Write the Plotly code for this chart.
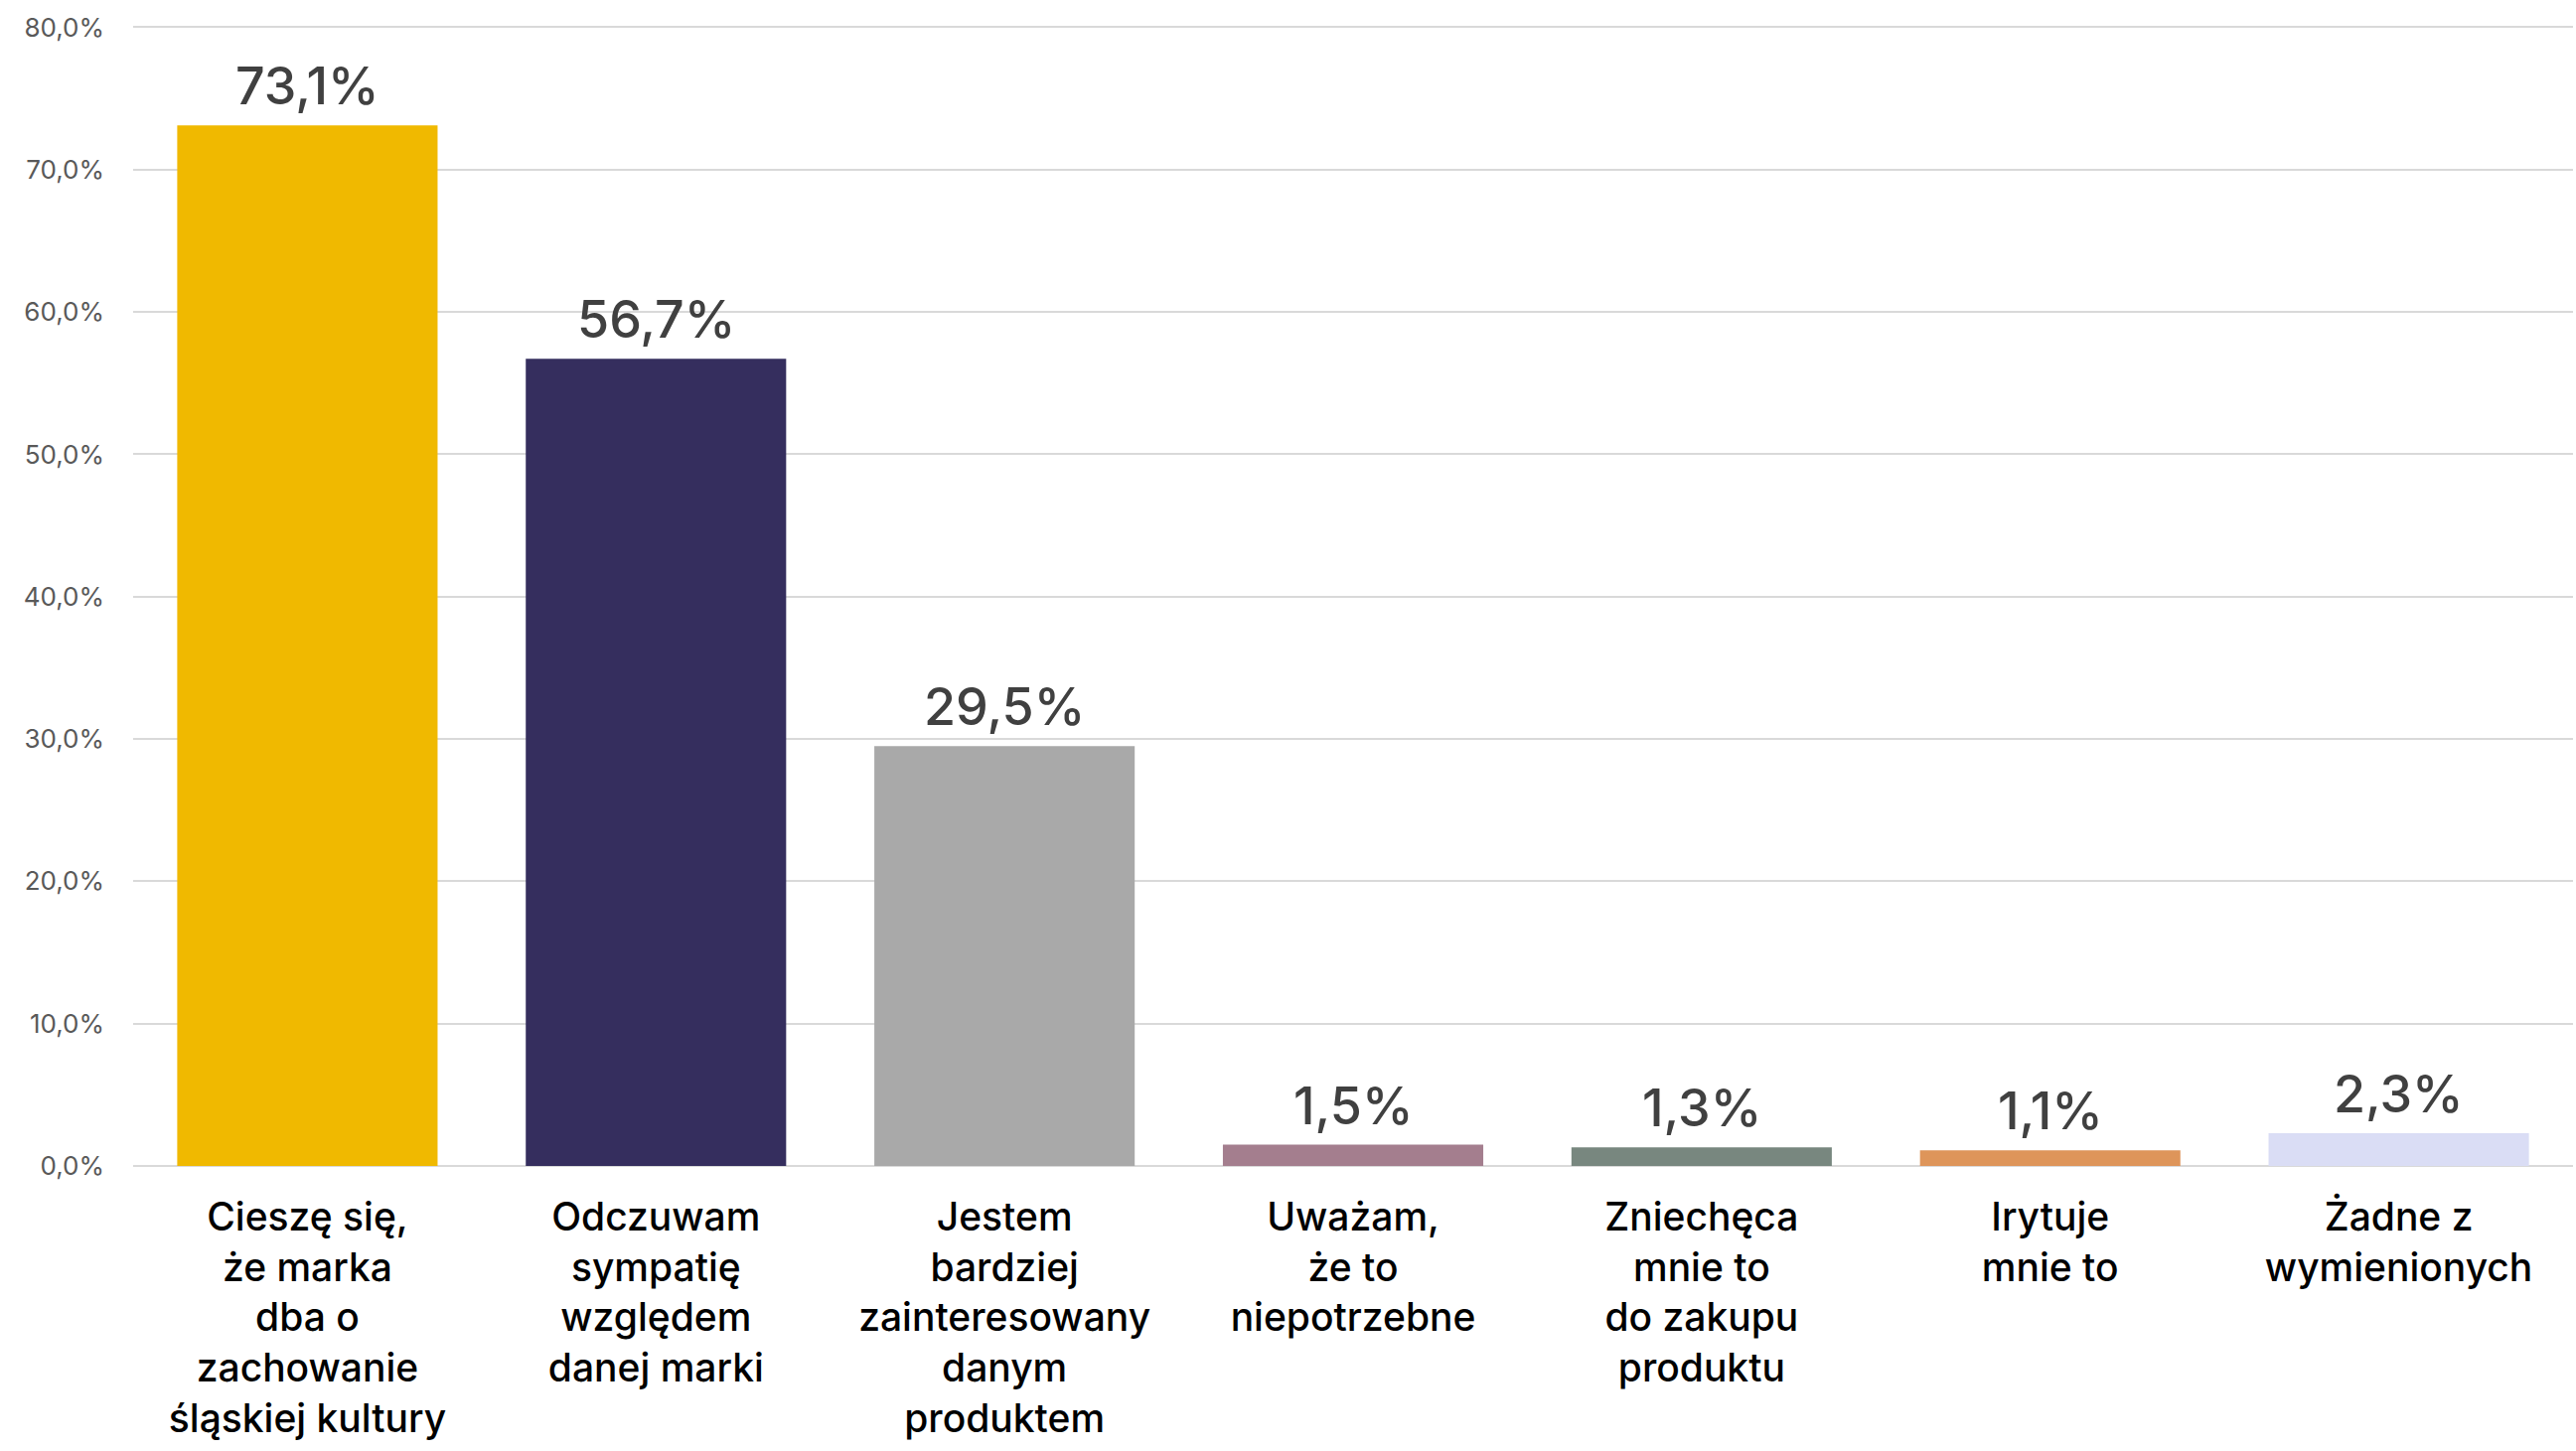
import plotly.graph_objects as go

# Survey answers (multi-line category labels) and shares in percent
categories = [
    "Cieszę się,<br>że marka<br>dba o<br>zachowanie<br>śląskiej kultury",
    "Odczuwam<br>sympatię<br>względem<br>danej marki",
    "Jestem<br>bardziej<br>zainteresowany<br>danym<br>produktem",
    "Uważam,<br>że to<br>niepotrzebne",
    "Zniechęca<br>mnie to<br>do zakupu<br>produktu",
    "Irytuje<br>mnie to",
    "Żadne z<br>wymienionych",
]
values = [73.1, 56.7, 29.5, 1.5, 1.3, 1.1, 2.3]
bar_colors = ["#F0B900", "#352E5E", "#A9A9A9", "#A47E8E", "#78877F", "#DE955A", "#DADDF5"]

y_ticks = [0, 10, 20, 30, 40, 50, 60, 70, 80]

FONT = "Inter"

fig = go.Figure(
    go.Bar(
        x=categories,
        y=values,
        marker=dict(color=bar_colors, line=dict(width=0)),
        hoverinfo="skip",
    )
)

# Value labels above each bar
for cat, val in zip(categories, values):
    fig.add_annotation(
        x=cat, y=val, text=f"{val:.1f}%".replace(".", ","),
        showarrow=False, yanchor="bottom", yshift=6,
        font=dict(family=FONT, size=52, color="#404040", weight=500),
    )

fig.update_layout(
    width=2593,
    height=1461,
    margin=dict(l=134, r=3, t=26, b=287),
    paper_bgcolor="white",
    plot_bgcolor="white",
    bargap=0.253,
    showlegend=False,
    separators=", ",
    font=dict(family=FONT),
)

fig.update_xaxes(
    automargin=False,
    tickfont=dict(family=FONT, size=39, color="#000000", weight=500),
    ticklabelstandoff=25,
    showline=False,
    showgrid=False,
    ticks="",
)
fig.update_yaxes(
    automargin=False,
    range=[0, 80.1],
    tickvals=y_ticks,
    ticktext=[f"{v:.1f}%".replace(".", ",") for v in y_ticks],
    tickfont=dict(family=FONT, size=26, color="#595959"),
    ticklabelstandoff=28,
    showgrid=True,
    gridcolor="#D9D9D9",
    gridwidth=2,
    zeroline=True,
    zerolinecolor="#D9D9D9",
    zerolinewidth=2,
    showline=False,
    ticks="",
)

fig.write_html("out.html")
